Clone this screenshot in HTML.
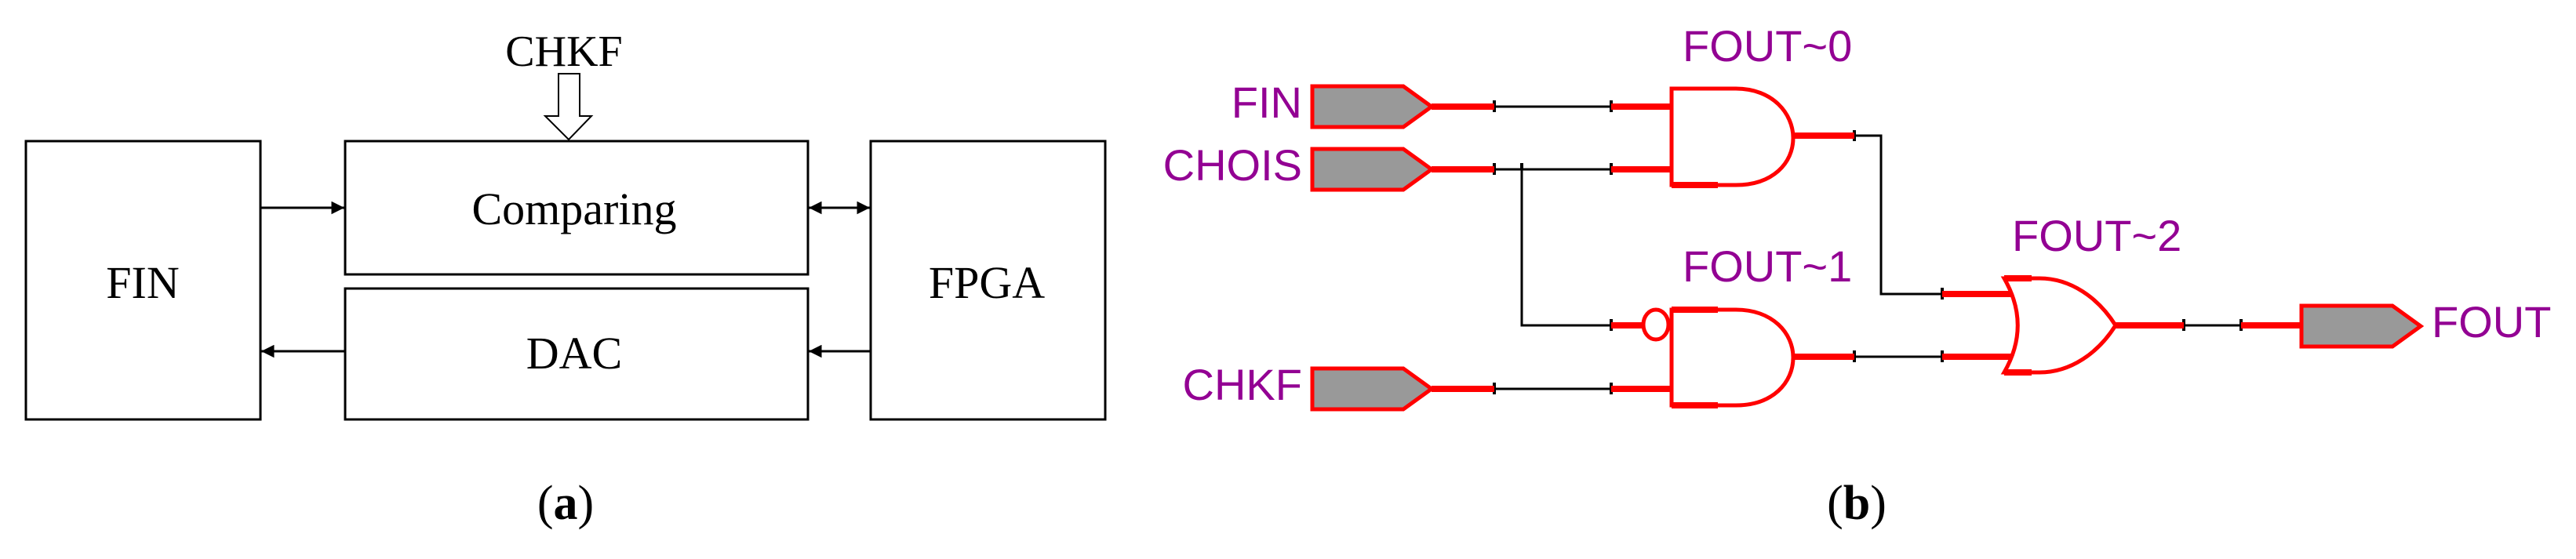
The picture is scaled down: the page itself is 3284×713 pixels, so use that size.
<!DOCTYPE html>
<html><head><meta charset="utf-8"><style>html,body{margin:0;padding:0;background:#fff}svg{display:block}</style></head>
<body>
<svg width="3284" height="713" viewBox="0 0 3284 713" xmlns="http://www.w3.org/2000/svg">
<defs>
<marker id="ah" viewBox="0 0 10 10" refX="10" refY="5" markerWidth="5.5" markerHeight="5.5" orient="auto-start-reverse" markerUnits="strokeWidth">
<path d="M0,0 L10,5 L0,10 z" fill="#000"/></marker>
</defs>
<g fill="none" stroke="#000" stroke-width="3">
<rect x="33" y="180" width="299" height="355"/>
<rect x="440" y="180" width="590" height="170"/>
<rect x="440" y="368" width="590" height="167"/>
<rect x="1110" y="180" width="299" height="355"/>
<line x1="332" y1="265" x2="439" y2="265" marker-end="url(#ah)"/>
<line x1="1031" y1="265" x2="1109" y2="265" marker-start="url(#ah)" marker-end="url(#ah)"/>
<line x1="440" y1="448" x2="333" y2="448" marker-end="url(#ah)"/>
<line x1="1110" y1="448" x2="1031" y2="448" marker-end="url(#ah)"/>
<path d="M712,94 L739,94 L739,148 L754,148 L725,178 L695,148 L712,148 Z" stroke-width="2"/>
</g>
<g font-family="Liberation Serif, serif" fill="#000" text-anchor="middle">
<text x="719" y="84" font-size="56">CHKF</text>
<text x="732" y="286" font-size="58">Comparing</text>
<text x="182" y="380" font-size="58">FIN</text>
<text x="732" y="470" font-size="58">DAC</text>
<text x="1258" y="380" font-size="58">FPGA</text>
<text x="721" y="662" font-size="62">(<tspan font-weight="bold">a</tspan>)</text>
<text x="2367" y="662" font-size="62">(<tspan font-weight="bold">b</tspan>)</text>
</g>
<g fill="#999" stroke="#f00" stroke-width="5">
<path d="M1673,110 L1789,110 L1825,136 L1789,162 L1673,162 Z"/>
<path d="M1673,190 L1789,190 L1825,216 L1789,242 L1673,242 Z"/>
<path d="M1673,470 L1789,470 L1825,496 L1789,522 L1673,522 Z"/>
<path d="M2934,390 L3050,390 L3086,416 L3050,442 L2934,442 Z"/>
</g>
<g stroke="#000" stroke-width="3" fill="none">
<line x1="1905" y1="136" x2="2054" y2="136"/>
<line x1="1905" y1="216" x2="2054" y2="216"/>
<polyline points="1940,216 1940,415 2054,415"/>
<line x1="1905" y1="496" x2="2054" y2="496"/>
<polyline points="2364,173 2398,173 2398,375 2476,375"/>
<line x1="2364" y1="455" x2="2476" y2="455"/>
<line x1="2784" y1="415" x2="2857" y2="415"/>
</g>
<g stroke="#000" stroke-width="4">
<line x1="1905" y1="128" x2="1905" y2="143"/><line x1="2054" y1="128" x2="2054" y2="143"/>
<line x1="1905" y1="208" x2="1905" y2="223"/><line x1="2054" y1="208" x2="2054" y2="223"/><line x1="1940" y1="208" x2="1940" y2="216"/>
<line x1="2054" y1="407" x2="2054" y2="422"/>
<line x1="1905" y1="488" x2="1905" y2="503"/><line x1="2054" y1="488" x2="2054" y2="503"/>
<line x1="2364" y1="166" x2="2364" y2="180"/>
<line x1="2476" y1="367" x2="2476" y2="382"/>
<line x1="2364" y1="447" x2="2364" y2="462"/><line x1="2476" y1="447" x2="2476" y2="462"/>
<line x1="2784" y1="407" x2="2784" y2="422"/><line x1="2857" y1="407" x2="2857" y2="422"/>
</g>
<g stroke="#f00" stroke-width="8" fill="none">
<line x1="1825" y1="136" x2="1905" y2="136"/><line x1="2054" y1="136" x2="2129" y2="136"/>
<line x1="1825" y1="216" x2="1905" y2="216"/><line x1="2054" y1="216" x2="2129" y2="216"/>
<line x1="1825" y1="496" x2="1905" y2="496"/><line x1="2054" y1="496" x2="2129" y2="496"/>
<line x1="2054" y1="415" x2="2093" y2="415"/>
<line x1="2286" y1="173" x2="2364" y2="173"/>
<line x1="2286" y1="455" x2="2364" y2="455"/>
<line x1="2476" y1="375" x2="2565" y2="375"/>
<line x1="2476" y1="455" x2="2565" y2="455"/>
<line x1="2697" y1="415" x2="2784" y2="415"/>
<line x1="2857" y1="415" x2="2934" y2="415"/>
</g>
<g stroke="#f00" stroke-width="5" fill="none">
<path d="M2131,113 L2213,113 C2260,113 2286,145 2286,176 C2286,208 2260,236 2213,236 L2131,236 Z"/>
<path d="M2131,236 L2190,236" stroke-width="8"/>
<path d="M2131,395 L2213,395 C2260,395 2286,425 2286,456 C2286,488 2260,517 2213,517 L2131,517 Z"/>
<path d="M2131,517 L2190,517 M2131,395 L2190,395" stroke-width="8"/>
<ellipse cx="2111" cy="414" rx="16" ry="19"/>
<path d="M2555,355 L2600,355 C2640,355 2675,380 2697,415 C2675,450 2640,475 2600,475 L2555,475 C2578,435 2578,395 2555,355 Z"/>
<path d="M2555,355 L2590,355 M2555,475 L2590,475" stroke-width="8"/>
</g>
<g font-family="Liberation Sans, sans-serif" fill="#930093" font-size="56">
<text x="1660" y="150" text-anchor="end">FIN</text>
<text x="1660" y="230" text-anchor="end">CHOIS</text>
<text x="1660" y="510" text-anchor="end">CHKF</text>
<text x="3100" y="430">FOUT</text>
<text x="2145" y="78">FOUT~0</text>
<text x="2145" y="359">FOUT~1</text>
<text x="2565" y="320">FOUT~2</text>
</g>
</svg>
</body></html>
